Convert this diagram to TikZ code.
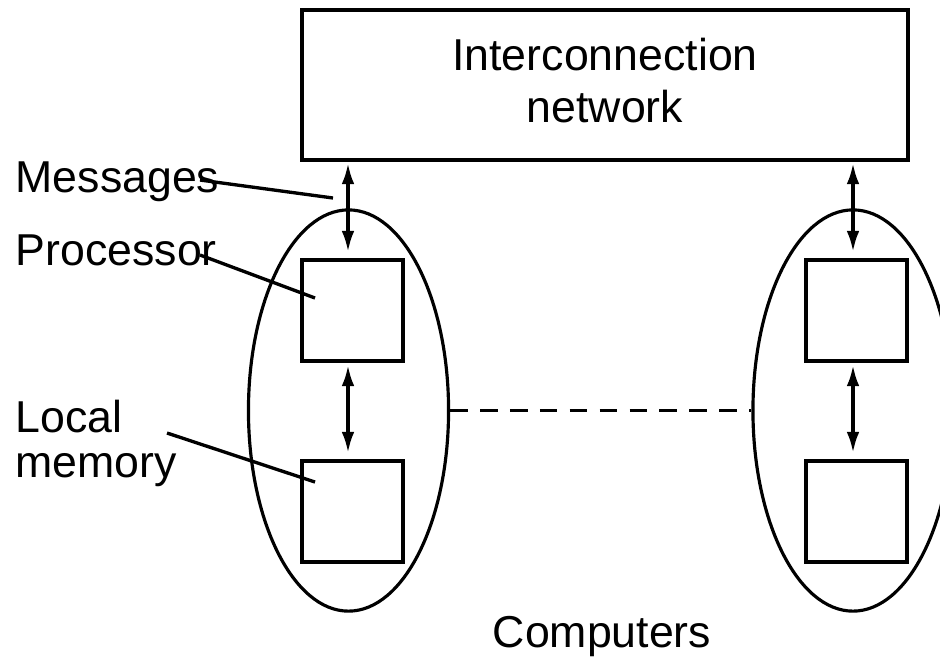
\documentclass[tikz,border=0pt]{standalone}
\usepackage{fontspec}
\setmainfont{Liberation Sans}
\usetikzlibrary{shapes.geometric,arrows.meta}
\begin{document}
\begin{tikzpicture}[x=0.01cm,y=-0.01cm,
  font=\fontsize{12.7}{14.8}\selectfont,
  box/.style={draw,line width=1pt,minimum width=1.01cm,minimum height=1.01cm,inner sep=0pt},
  comp/.style={draw,ellipse,line width=0.9pt,minimum width=2cm,minimum height=4.01cm,inner sep=0pt},
  link/.style={line width=1pt,{Latex[length=6pt,width=3.6pt]}-{Latex[length=6pt,width=3.6pt]}},
  leader/.style={line width=0.95pt},
  lbl/.style={inner sep=0pt,anchor=base west}]
\useasboundingbox (0,0) rectangle (940,657);
\clip (0,0) rectangle (940,657);
\node[draw,line width=1pt,minimum width=6.06cm,minimum height=1.5cm,align=center] (net) at (605,85) {};
\node[align=center,inner sep=0pt] (nettext) at (605,81) {Interconnection\\network};
\node[comp] (c1) at (348.5,410.5) {};
\node[comp] (c2) at (853,410.5) {};
\node[box] (p1) at (352.5,310.5) {};
\node[box] (m1) at (352.5,511.5) {};
\node[box] (p2) at (856.5,310.5) {};
\node[box] (m2) at (856.5,511.5) {};
\coordinate (a1t) at (348,163);
\coordinate (a1b) at (348,252);
\coordinate (a2t) at (348,365);
\coordinate (a2b) at (348,453);
\coordinate (b1t) at (853,163);
\coordinate (b1b) at (853,252);
\coordinate (b2t) at (853,365);
\coordinate (b2b) at (853,453);
\draw[link] (a1t) -- (a1b);
\draw[link] (a2t) -- (a2b);
\draw[link] (b1t) -- (b1b);
\draw[link] (b2t) -- (b2b);
\draw[line width=0.95pt,dash pattern=on 5pt off 3.5pt] (c1.east) -- (c2.west);
\node[lbl] (msg) at (15,192) {Messages};
\node[lbl] (proc) at (15,265) {Processor};
\node[lbl,align=left,font=\fontsize{12.7}{12.8}\selectfont] (lm) at (15,477) {Local\\memory};
\node[inner sep=0pt,anchor=base] (cmp) at (602,647) {Computers};
\coordinate (ms) at (200,180);
\coordinate (me) at (333,198);
\coordinate (ps) at (200,255);
\coordinate (pe) at (315,298);
\coordinate (ls) at (167,433);
\coordinate (le) at (315,482);
\draw[leader] (ms) -- (me);
\draw[leader] (ps) -- (pe);
\draw[leader] (ls) -- (le);
\end{tikzpicture}
\end{document}
